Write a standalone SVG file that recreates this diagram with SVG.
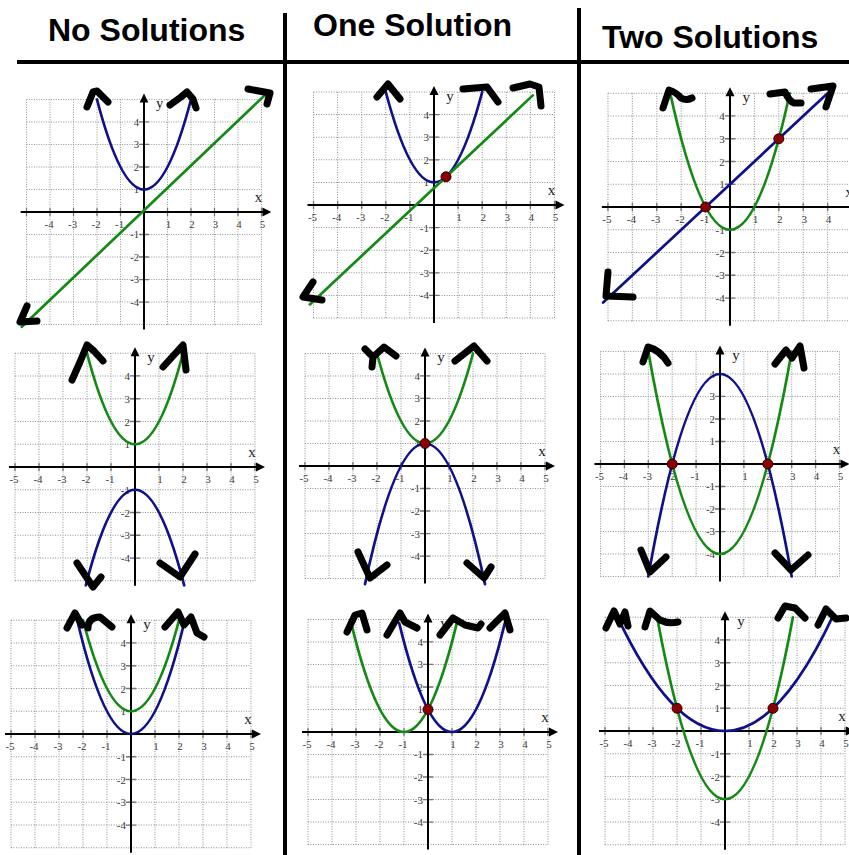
<svg xmlns="http://www.w3.org/2000/svg" xmlns:xlink="http://www.w3.org/1999/xlink" width="849" height="855" viewBox="0 0 849 855">
<style>
.hdr{font-family:"Liberation Sans",Arial,sans-serif;font-weight:bold;font-size:32px;fill:#000}
.div{stroke:#000;stroke-width:4;fill:none}
.gl{stroke:#8f8f8f;stroke-width:1;stroke-dasharray:1 1.5;fill:none}
.ax{stroke:#000;stroke-width:2;fill:none}
.tk{stroke:#777;stroke-width:1.3;fill:none}
.num{font-family:"Liberation Serif","Times New Roman",serif;font-size:11px;fill:#3a3a3a}
.xl{text-anchor:middle}
.yl{text-anchor:end}
.var{font-family:"Liberation Serif","Times New Roman",serif;font-size:15px;fill:#222;text-anchor:middle}
.cv{fill:none;stroke-width:2.7;vector-effect:non-scaling-stroke;stroke-linecap:round}
.bl{stroke:#10108a}
.gr{stroke:#138a13}
.dot{fill:#8b0000;stroke:#2a0000;stroke-width:1}
.hand{fill:none;stroke:#000;stroke-width:7;stroke-linecap:round;stroke-linejoin:round}
</style>
<defs>
<g id="grid">
<path class="gl" d="M-120,-113V113M-96,-113V113M-72,-113V113M-48,-113V113M-24,-113V113M24,-113V113M48,-113V113M72,-113V113M96,-113V113M120,-113V113M-120,-113H120M-120,-90.4H120M-120,-67.8H120M-120,-45.2H120M-120,-22.6H120M-120,22.6H120M-120,45.2H120M-120,67.8H120M-120,90.4H120M-120,113H120"/>
<path class="tk" d="M-120,-4V4M-96,-4V4M-72,-4V4M-48,-4V4M-24,-4V4M24,-4V4M48,-4V4M72,-4V4M96,-4V4M120,-4V4M-5,-90.4H5M-5,-67.8H5M-5,-45.2H5M-5,-22.6H5M-5,22.6H5M-5,45.2H5M-5,67.8H5M-5,90.4H5"/>
<path class="ax" d="M-126,0H123M0,118V-112"/>
<polygon points="130,0 121,-4.5 121,4.5" fill="#000"/>
<polygon points="0,-119 -4.5,-110 4.5,-110" fill="#000"/>
<g class="num xl">
<text x="-97" y="16">-4</text><text x="-73" y="16">-3</text><text x="-49" y="16">-2</text><text x="-25" y="16">-1</text>
<text x="25" y="16">1</text><text x="49" y="16">2</text><text x="73" y="16">3</text><text x="97" y="16">4</text><text x="121" y="16">5</text>
</g>
<g class="num yl">
<text x="-5" y="-86.4">4</text><text x="-5" y="-63.8">3</text><text x="-5" y="-41.2">2</text><text x="-5" y="-18.6">1</text>
<text x="-5" y="26.6">-1</text><text x="-5" y="49.2">-2</text><text x="-5" y="71.8">-3</text><text x="-5" y="94.4">-4</text>
</g>
<text class="var" x="117" y="-10">x</text>
<text class="var" x="16" y="-104">y</text>
</g>
<text id="m5" class="num xl" x="-121" y="16">-5</text>
</defs>

<g id="headers">
<text class="hdr" x="48" y="41">No Solutions</text>
<text class="hdr" x="313" y="36">One Solution</text>
<text class="hdr" x="602" y="48">Two Solutions</text>
</g>

<g id="panel-1-1">
<use href="#grid" transform="translate(144,212) scale(0.979,0.996)"/>
<g transform="translate(144,212) scale(23.5,-22.5)">
<path class="cv bl" d="M-2,5 Q0,-3 2,5"/>
<path class="cv gr" d="M-5.2,-5.1 L5.15,5.2"/>
</g>
<path class="hand" d="M87,107 L93,92 L97,91 L108,102"/>
<path class="hand" d="M170,105 L181,97 L187,92 L193,99 L196,108"/>
<path class="hand" d="M248,89 L270,93 L267,104"/>
<path class="hand" d="M27,306 L20,322 L37,321"/>
</g>

<g id="panel-1-2">
<use href="#grid" transform="translate(434,205) scale(1.004,1)"/>
<use href="#m5" transform="translate(434,205) scale(1.004,1)"/>
<g transform="translate(434,205) scale(24.1,-22.6)">
<path class="cv bl" d="M-2,5 Q0,-3 2,5"/>
<path class="cv gr" d="M-5.15,-4.4 L4.1,4.85"/>
</g>
<circle class="dot" cx="446" cy="176.8" r="5"/>
<path class="hand" d="M377,97 L388,84 L400,99"/>
<path class="hand" d="M463,89 L487,87 L498,102"/>
<path class="hand" d="M513,88 L530,84 L539,87 L541,106"/>
<path class="hand" d="M313,282 L303,297 L322,300"/>
</g>

<g id="panel-1-3">
<use href="#grid" transform="translate(730,207) scale(1.017,1.007)"/>
<use href="#m5" transform="translate(730,207) scale(1.017,1.007)"/>
<g transform="translate(730,207) scale(24.4,-22.75)">
<path class="cv gr" d="M-2.45,5 Q0,-7 2.45,5"/>
<path class="cv bl" d="M-5.2,-4.2 L4,5"/>
</g>
<circle class="dot" cx="705.6" cy="207" r="5"/>
<circle class="dot" cx="778.8" cy="138.8" r="5"/>
<path class="hand" d="M663,108 L669,90 Q676,92 681,98 Q686,101 692,98"/>
<path class="hand" d="M770,94 L785,92 Q789,101 794,103 L801,103"/>
<path class="hand" d="M811,89 L833,86 L826,107"/>
<path class="hand" d="M608,272 L606,296 L633,297"/>
</g>

<g id="panel-2-1">
<use href="#grid" transform="translate(135,467) scale(1,1.007)"/>
<use href="#m5" transform="translate(135,467) scale(1,1.007)"/>
<g transform="translate(135,467) scale(24,-22.75)">
<path class="cv gr" d="M-2,5 Q0,-3 2,5"/>
<path class="cv bl" d="M-2.05,-5.2 Q0,3.2 2.05,-5.2"/>
</g>
<path class="hand" d="M72,380 L80,362 L87,345 L94,351 L103,361"/>
<path class="hand" d="M163,367 L183,345 L186,370"/>
<path class="hand" d="M77,563 L93,587 L101,577"/>
<path class="hand" d="M160,563 L180,577 L195,554"/>
</g>

<g id="panel-2-2">
<use href="#grid" transform="translate(425,466) scale(1,0.996)"/>
<use href="#m5" transform="translate(425,466) scale(1,0.996)"/>
<g transform="translate(425,466) scale(24,-22.5)">
<path class="cv gr" d="M-2,5 Q0,-3 2,5"/>
<path class="cv bl" d="M-2.5,-5.25 Q0,7.25 2.5,-5.25"/>
</g>
<circle class="dot" cx="425" cy="443.5" r="5"/>
<path class="hand" d="M365,349 L373,357 L372,367 M373,357 L384,347 L396,356"/>
<path class="hand" d="M455,361 L474,346 L487,361"/>
<path class="hand" d="M358,552 L370,578 L387,565"/>
<path class="hand" d="M467,563 L484,578 L491,567"/>
</g>

<g id="panel-2-3">
<use href="#grid" transform="translate(720,464) scale(0.996,0.996)"/>
<use href="#m5" transform="translate(720,464) scale(0.996,0.996)"/>
<g transform="translate(720,464) scale(23.9,-22.5)">
<path class="cv bl" d="M-3,-5 Q0,13 3,-5"/>
<path class="cv gr" d="M-3,5 Q0,-13 3,5"/>
</g>
<circle class="dot" cx="672.2" cy="464" r="5"/>
<circle class="dot" cx="767.8" cy="464" r="5"/>
<path class="hand" d="M643,362 L648,347 Q660,350 668,363"/>
<path class="hand" d="M775,364 L786,350 L792,358 L800,346 L804,368"/>
<path class="hand" d="M641,550 L650,572 L666,557"/>
<path class="hand" d="M775,553 L791,570 L808,555"/>
</g>

<g id="panel-3-1">
<use href="#grid" transform="translate(131,734) scale(1,1.007)"/>
<use href="#m5" transform="translate(131,734) scale(1,1.007)"/>
<g transform="translate(131,734) scale(24,-22.75)">
<path class="cv bl" d="M-2.24,5 Q0,-5 2.24,5"/>
<path class="cv gr" d="M-2,5 Q0,-3 2,5"/>
</g>
<path class="hand" d="M67,628 L75,613 L82,625 M88,628 Q88,617 100,617 L112,627"/>
<path class="hand" d="M165,627 L178,612 L184,625 L191,617 L197,633 L204,637"/>
</g>

<g id="panel-3-2">
<use href="#grid" transform="translate(428,732) scale(1,0.996)"/>
<use href="#m5" transform="translate(428,732) scale(1,0.996)"/>
<g transform="translate(428,732) scale(24,-22.5)">
<path class="cv gr" d="M-3.2,4.84 Q-1,-4.84 1.2,4.84"/>
<path class="cv bl" d="M-1.2,4.84 Q1,-4.84 3.2,4.84"/>
</g>
<circle class="dot" cx="428" cy="709.5" r="5"/>
<path class="hand" d="M347,632 L355,615 L362,613 L367,630"/>
<path class="hand" d="M387,635 L400,613 L405,622 L417,628"/>
<path class="hand" d="M440,635 L453,618 L465,625 L478,628 L481,624"/>
<path class="hand" d="M490,628 L505,613 L510,630"/>
</g>

<g id="panel-3-3">
<use href="#grid" transform="translate(725,731) scale(1,1.007)"/>
<use href="#m5" transform="translate(725,731) scale(1,1.007)"/>
<g transform="translate(725,731) scale(24,-22.75)">
<path class="cv bl" d="M-4.5,5.06 Q0,-5.06 4.5,5.06"/>
<path class="cv gr" d="M-2.83,5 Q0,-11 2.83,5"/>
</g>
<circle class="dot" cx="677" cy="708.3" r="5"/>
<circle class="dot" cx="773" cy="708.3" r="5"/>
<path class="hand" d="M606,628 L614,611 L620,624 L625,612 L628,626"/>
<path class="hand" d="M645,627 L650,611 L660,620 Q668,624 678,622"/>
<path class="hand" d="M778,618 L785,606 L795,608 L805,618"/>
<path class="hand" d="M818,625 L826,609 L836,619 L846,618"/>
</g>

<g id="dividers">
<path class="div" d="M17,62H849"/>
<path class="div" d="M285,13V855"/>
<path class="div" d="M579,8V855"/>
</g>
</svg>
